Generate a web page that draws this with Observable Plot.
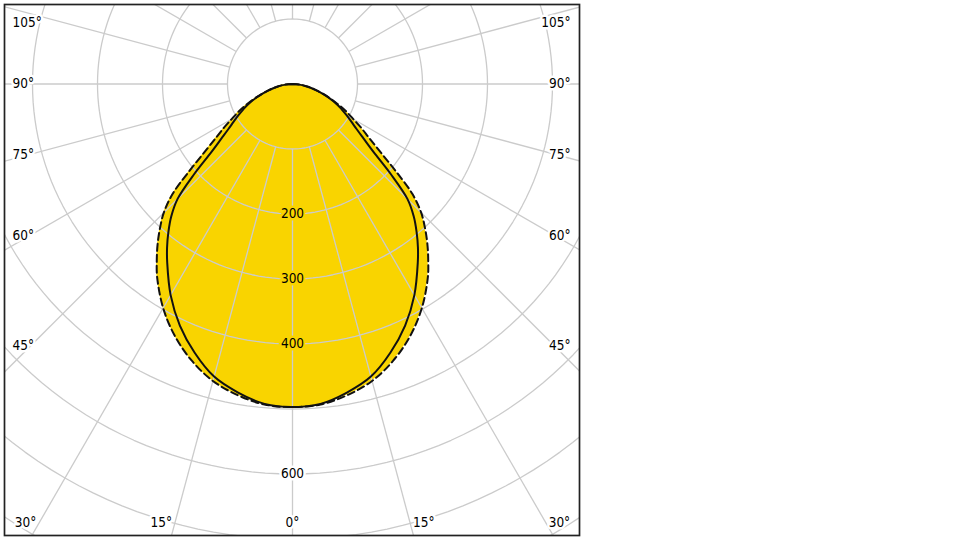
<!DOCTYPE html>
<html>
<head>
<meta charset="utf-8">
<script src="https://cdn.jsdelivr.net/npm/d3@7"></script>
<script src="https://cdn.jsdelivr.net/npm/@observablehq/plot@0.6"></script>
<style>
  html, body { margin: 0; padding: 0; background: #ffffff; }
  #chart svg { display: block; }
</style>
</head>
<body>
<div id="chart"></div>
<script>
// ---- data (luminous intensity, cd) ----
const angles   = [0, 5, 10, 15, 20, 25, 30, 35, 37.5, 40, 42.5, 45, 47.5, 50, 52.5, 55, 57.5, 60, 62.5, 65, 70, 75, 80, 85, 90];
const solidCd  = [497, 494, 482, 466, 440, 410, 375, 336, 317, 297, 276, 250, 205, 163, 138, 120, 107, 96, 86, 77, 57, 39, 24, 11, 0];
const dashedCd = [497, 495, 486, 473, 453, 428, 398, 363, 343, 323, 302, 280, 250, 205, 168, 143, 125, 108, 95, 82, 58, 39, 24, 11, 0];
const ringValues = [100, 200, 300, 400, 500, 600, 700, 800, 900];
const ringLabels = [200, 300, 400, 600];
const spokeAngles = [0, 15, 30, 45, 60, 75, 90, 105, 120, 135, 150, 165, 180, 195, 210, 225, 240, 255, 270, 285, 300, 315, 330, 345];
const sideLabelAngles = [105, 90, 75, 60, 45];
const bottomLabelAngles = [30, 15, 0];

// ---- geometry helpers ----
const W = 583, H = 539, M = 4;
const cxPx = 292, cyPx = 83.5, k = 0.65; // px per cd
const xDomain = [(M - cxPx) / k, (W - M - cxPx) / k];
const yDomain = [(H - M - cyPx) / k, (M - cyPx) / k]; // downward positive
const rad = a => a * Math.PI / 180;
const pol = (a, v) => ({x: v * Math.sin(rad(a)), y: v * Math.cos(rad(a))});

function profile(vals) {
  const left = angles.map((a, i) => pol(-a, vals[i])).reverse();
  const right = angles.slice(1).map((a, i) => pol(a, vals[i + 1]));
  return left.concat(right);
}
const solidPts = profile(solidCd);
const dashedPts = profile(dashedCd);
const fillPts = profile(angles.map((a, i) => Math.max(solidCd[i], dashedCd[i])));

const ringPts = ringValues.flatMap(r => d3.range(0, 361, 2).map(a => ({r, ...pol(a, r)})));

// angle label positions
const sideX = 262 / k;
const leftX = (12 - cxPx) / k;
const rightX = (570 - cxPx) / k;
const minY = (22 - cyPx) / k;
const bottomY = (522 - cyPx) / k;
const sideLabels = sideLabelAngles.map(a => ({a, y: Math.max(minY, sideX / Math.tan(rad(a)))}));
const bottomLabels = bottomLabelAngles.map(a => ({a, x: bottomY * Math.tan(rad(a))}));

const font = '"DejaVu Sans Condensed", "DejaVu Sans", sans-serif';
const grid = "#cbcbcb";
const yellow = "#f9d400";
const fs = 13.5;

const plot = Plot.plot({
  width: W, height: H,
  marginLeft: M, marginRight: M, marginTop: M, marginBottom: M,
  x: {domain: xDomain, axis: null},
  y: {domain: yDomain, axis: null},
  style: {fontFamily: font, background: "#ffffff"},
  marks: [
    Plot.area(fillPts, {x1: "x", y1: "y", x2: d => 0, y2: d => 0, fill: yellow, curve: "catmull-rom"}),
    Plot.line(ringPts, {x: "x", y: "y", z: "r", stroke: grid, strokeWidth: 1.3, clip: true}),
    Plot.link(spokeAngles, {
      x1: a => pol(a, 100).x, y1: a => pol(a, 100).y,
      x2: a => pol(a, 1100).x, y2: a => pol(a, 1100).y,
      stroke: grid, strokeWidth: 1.3, clip: true
    }),
    Plot.text(ringLabels.filter(v => v < 500), {x: d => 0, y: d => d, text: d => String(d), fontSize: fs, fill: "#000", stroke: yellow, strokeWidth: 5}),
    Plot.text(ringLabels.filter(v => v > 500), {x: d => 0, y: d => d, text: d => String(d), fontSize: fs, fill: "#000", stroke: "#fff", strokeWidth: 5}),
    Plot.text(sideLabels, {x: d => leftX, y: "y", text: d => d.a + "°", textAnchor: "start", fontSize: fs, fill: "#000", stroke: "#fff", strokeWidth: 5}),
    Plot.text(sideLabels, {x: d => rightX, y: "y", text: d => d.a + "°", textAnchor: "end", fontSize: fs, fill: "#000", stroke: "#fff", strokeWidth: 5}),
    Plot.text(bottomLabels.filter(d => d.a > 0), {x: d => -d.x, y: d => bottomY, text: d => d.a + "°", textAnchor: "end", dx: -3, fontSize: fs, fill: "#000", stroke: "#fff", strokeWidth: 5}),
    Plot.text(bottomLabels.filter(d => d.a > 0), {x: d => d.x, y: d => bottomY, text: d => d.a + "°", textAnchor: "start", dx: 3, fontSize: fs, fill: "#000", stroke: "#fff", strokeWidth: 5}),
    Plot.text(bottomLabels.filter(d => d.a === 0), {x: d => d.x, y: d => bottomY, text: d => d.a + "°", textAnchor: "middle", fontSize: fs, fill: "#000", stroke: "#fff", strokeWidth: 5}),
    Plot.line(dashedPts, {x: "x", y: "y", stroke: "#111", strokeWidth: 2, strokeDasharray: "7,4", curve: "catmull-rom"}),
    Plot.line(solidPts, {x: "x", y: "y", stroke: "#111", strokeWidth: 2, curve: "catmull-rom"}),
    Plot.frame({stroke: "#222", strokeWidth: 1.7})
  ]
});
document.getElementById("chart").appendChild(plot);
</script>
</body>
</html>
